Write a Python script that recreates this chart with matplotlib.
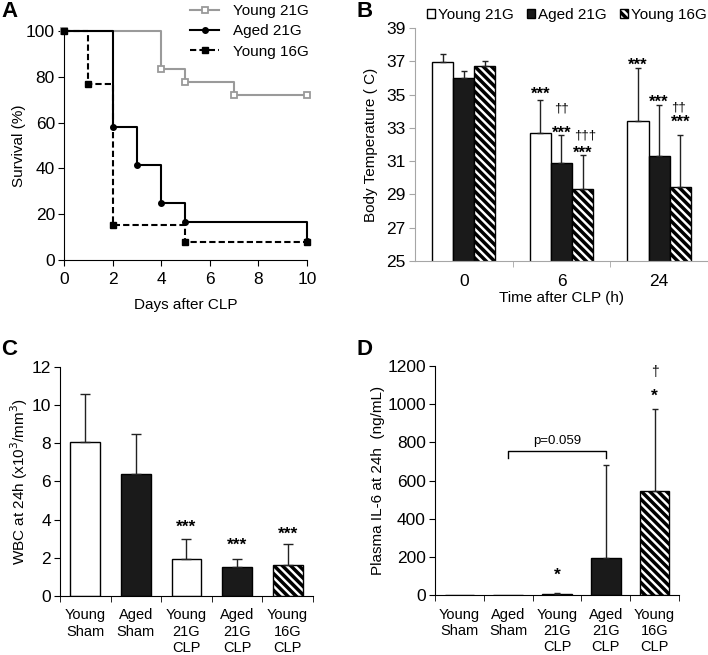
import numpy as np
import matplotlib.pyplot as plt

plt.rcParams['font.family'] = ['Liberation Sans', 'DejaVu Sans']
plt.rcParams['font.size'] = 11
plt.rcParams['hatch.linewidth'] = 2.5

# A - supervivencia
dias_y21 = [0, 4, 5, 7, 10]
surv_y21 = [100, 83.3, 77.8, 72.2, 72.2]
dias_a21 = [0, 2, 3, 4, 5, 10]
surv_a21 = [100, 58.3, 41.7, 25.0, 16.7, 8.3]
dias_y16 = [0, 1, 2, 5, 10]
surv_y16 = [100, 76.9, 15.4, 7.7, 7.7]

# B - temperatura
tiempos = ['0', '6', '24']
temp_y21 = [36.95, 32.7, 33.4]
temp_y21_err = [0.5, 1.95, 3.2]
temp_a21 = [36.0, 30.9, 31.3]
temp_a21_err = [0.4, 1.65, 3.05]
temp_y16 = [36.7, 29.3, 29.45]
temp_y16_err = [0.3, 2.05, 3.15]

# C - WBC
grupos = ['Young\nSham', 'Aged\nSham', 'Young\n21G\nCLP', 'Aged\n21G\nCLP', 'Young\n16G\nCLP']
wbc = [8.08, 6.37, 1.95, 1.53, 1.6]
wbc_err = [2.52, 2.12, 1.03, 0.39, 1.14]

# D - IL-6
il6 = [0, 0, 5, 195, 547]
il6_err = [0, 0, 3, 486, 428]

colores = ['white', '#1a1a1a', 'white', '#1a1a1a', 'white']
tramas = ['', '', '', '', '\\\\\\\\']

TICK = 12.5

fig = plt.figure(figsize=(7.08, 6.55), dpi=100)

def ejes(ax, color='black'):
    ax.spines['top'].set_visible(False)
    ax.spines['right'].set_visible(False)
    ax.spines['left'].set_color(color)
    ax.spines['bottom'].set_color(color)
    ax.tick_params(direction='out', length=4.5, color=color, labelsize=TICK, pad=2)

# ---------- A ----------
axA = fig.add_axes([0.0904, 0.603, 0.3432, 0.3496])
axA.plot(dias_y21, surv_y21, drawstyle='steps-post', color='#9a9a9a', lw=1.5,
         marker='s', ms=5, mfc='white', mec='#9a9a9a', mew=1.3, clip_on=False, label='Young 21G')
axA.plot(dias_a21, surv_a21, drawstyle='steps-post', color='black', lw=1.5,
         marker='o', ms=4, clip_on=False, label='Aged 21G')
axA.plot(dias_y16, surv_y16, drawstyle='steps-post', color='black', lw=1.5, ls=(0, (3, 1.5)),
         marker='s', ms=4.5, clip_on=False, label='Young 16G')
axA.set_xlim(0, 10)
axA.set_ylim(0, 100)
axA.set_xticks(range(0, 11, 2))
axA.set_yticks(range(0, 101, 20))
axA.set_xlabel('Days after CLP', fontsize=11, labelpad=8)
axA.set_ylabel('Survival (%)', fontsize=11, labelpad=0)
ejes(axA)
axA.tick_params(axis='x', pad=4)
axA.legend(loc='upper left', bbox_to_anchor=(0.258, 1.005), bbox_transform=fig.transFigure,
           frameon=False, fontsize=11, handlelength=1.9, handletextpad=0.9, labelspacing=0.4,
           borderpad=0)

# ---------- B ----------
axB = fig.add_axes([0.586, 0.6015, 0.414, 0.3557])
x = np.arange(len(tiempos))
w = 0.216
series = [(temp_y21, temp_y21_err, 'white', '', 'Young 21G'),
          (temp_a21, temp_a21_err, '#1a1a1a', '', 'Aged 21G'),
          (temp_y16, temp_y16_err, 'white', '\\\\\\\\', 'Young 16G')]
for k, (v, e, c, h, lab) in enumerate(series):
    pos = x + (k - 1) * w
    axB.bar(pos, v, w, bottom=0, color=c, edgecolor='black', lw=1, hatch=h, label=lab, zorder=2)
    axB.errorbar(pos, v, yerr=[np.zeros(len(e)), e], fmt='none', ecolor='#222222',
                 elinewidth=1, capsize=2.5, capthick=1, zorder=3)
axB.set_ylim(25, 39)
axB.set_xlim(-0.5, 2.5)
axB.set_yticks(range(25, 40, 2))
axB.set_xticks(x)
axB.set_xticklabels(tiempos)
axB.set_xticks([0.5, 1.5, 2.5], minor=True)
ejes(axB, '#a6a6a6')
axB.tick_params(axis='x', which='major', length=0, pad=9)
axB.tick_params(axis='x', which='minor', length=4.5, color='#a6a6a6')
axB.tick_params(axis='y', labelcolor='black')
axB.set_xlabel('Time after CLP (h)', fontsize=11, labelpad=2)
axB.set_ylabel('Body Temperature ( C)', fontsize=11, labelpad=6)
# (x, y visual, texto)
marcas_B = [(1 - w, 35.3, '***'), (1, 34.15, '††'), (1, 32.95, '***'), (1 + w + 0.03, 32.55, '†††'),
            (1 + w, 31.8, '***'), (2 - w, 37.05, '***'), (2, 34.85, '***'), (2 + w - 0.02, 34.25, '††'),
            (2 + w, 33.65, '***')]
for xx, yy, t in marcas_B:
    if '*' in t:
        axB.text(xx, yy - 0.3, t, ha='center', va='center', fontsize=12, fontweight='bold')
    else:
        axB.text(xx, yy, t, ha='center', va='center', fontsize=9.5)
axB.legend(loc='upper left', bbox_to_anchor=(0.592, 1.0), bbox_transform=fig.transFigure,
           ncol=3, frameon=False, fontsize=11, handlelength=0.55, handleheight=0.55,
           handletextpad=0.2, columnspacing=0.85, borderpad=0)

# ---------- C ----------
axC = fig.add_axes([0.0847, 0.0901, 0.3573, 0.3496])
xc = np.arange(len(grupos))
axC.bar(xc, wbc, 0.59, color=colores, edgecolor='black', lw=1, hatch=tramas, zorder=2)
axC.errorbar(xc, wbc, yerr=[np.zeros(len(wbc)), wbc_err], fmt='none', ecolor='#222222',
             elinewidth=1, capsize=3.5, capthick=1, zorder=3)
axC.set_xlim(-0.5, 4.5)
axC.set_ylim(0, 12)
axC.set_yticks(range(0, 13, 2))
ejes(axC)
axC.set_xticks(xc)
axC.set_xticklabels(grupos, fontsize=10.5, linespacing=1.2, va='top')
axC.set_xticks([-0.5, 0.5, 1.5, 2.5, 3.5, 4.5], minor=True)
axC.tick_params(axis='x', which='major', length=0, pad=9)
axC.tick_params(axis='x', which='minor', length=4.5)
axC.set_ylabel('WBC at 24h (x10$^3$/mm$^3$)', fontsize=11, labelpad=1)
for xx, yy in [(2, 3.84), (3, 2.9), (4, 3.5)]:
    axC.text(xx, yy - 0.25, '***', ha='center', va='center', fontsize=12.5, fontweight='bold')

# ---------- D ----------
axD = fig.add_axes([0.6144, 0.0916, 0.3446, 0.3496])
axD.bar(xc, il6, 0.61, color=colores, edgecolor='black', lw=1, hatch=tramas, zorder=2)
axD.errorbar(xc[2:], il6[2:], yerr=[np.zeros(3), il6_err[2:]], fmt='none', ecolor='#222222',
             elinewidth=1, capsize=2.5, capthick=1, zorder=3)
axD.set_xlim(-0.5, 4.5)
axD.set_ylim(0, 1200)
axD.set_yticks(range(0, 1201, 200))
ejes(axD)
axD.set_xticks(xc)
axD.set_xticklabels(grupos, fontsize=10.5, linespacing=1.2, va='top')
axD.set_xticks([-0.5, 0.5, 1.5, 2.5, 3.5, 4.5], minor=True)
axD.tick_params(axis='x', which='major', length=0, pad=9)
axD.tick_params(axis='x', which='minor', length=4.5)
axD.set_ylabel('Plasma IL-6 at 24h  (ng/mL)', fontsize=11, labelpad=2)
axD.plot([1, 1, 3, 3], [716, 755, 755, 716], color='black', lw=1)
axD.text(2, 775, 'p=0.059', ha='center', va='bottom', fontsize=9.5)
axD.text(2, 105, '*', ha='center', va='center', fontsize=12.5, fontweight='bold')
axD.text(4, 1042, '*', ha='center', va='center', fontsize=12.5, fontweight='bold')
axD.text(4, 1170, '†', ha='center', va='center', fontsize=10)

# letras de panel
for xx, yy, t in [(0.002, 0.999, 'A'), (0.503, 0.999, 'B'), (0.002, 0.483, 'C'), (0.503, 0.483, 'D')]:
    fig.text(xx, yy, t, ha='left', va='top', fontsize=16, fontweight='bold')

fig.savefig('out.png', dpi=100)
